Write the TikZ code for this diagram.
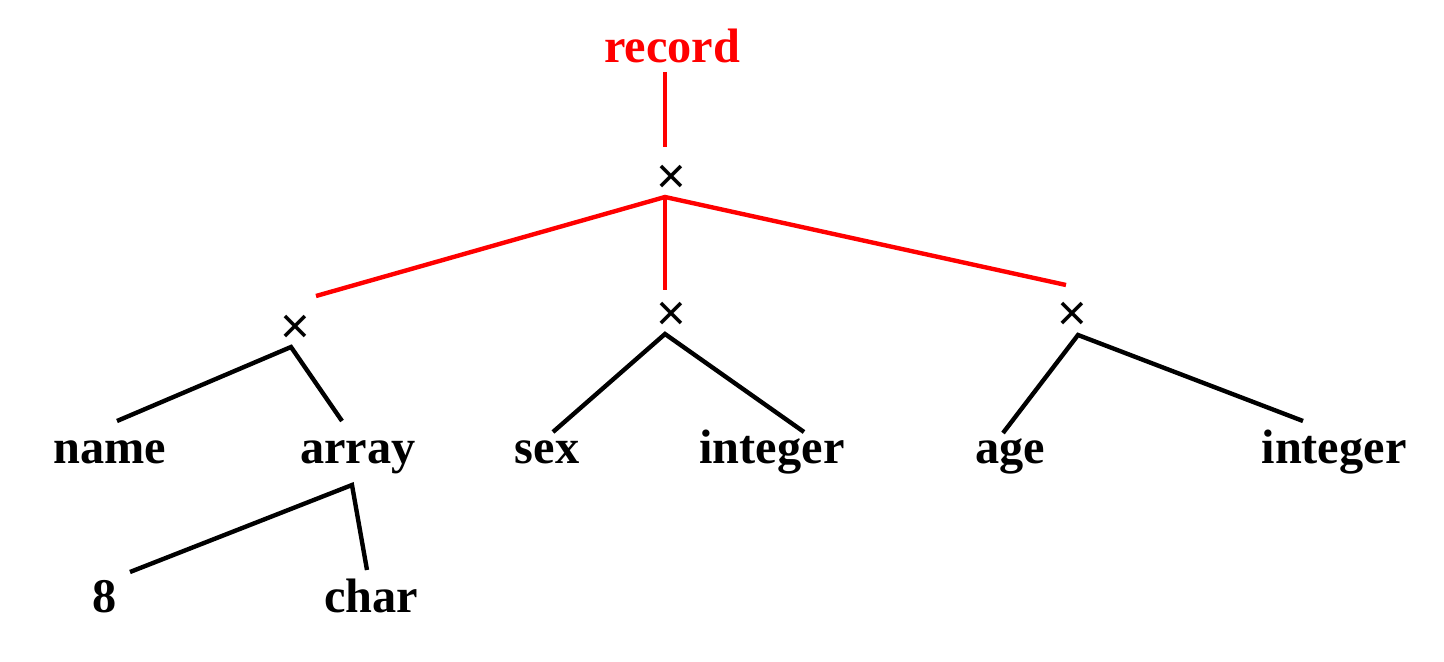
\documentclass[tikz,border=0pt]{standalone}
\usepackage{fontspec}
\setmainfont{Liberation Serif}
\newfontfamily\symfont{Liberation Sans}
\usepackage{tikz}
\definecolor{recRed}{HTML}{FF0000}
\begin{document}
\begin{tikzpicture}[x=0.02cm, y=-0.02cm,
  lbl/.style={font=\fontsize{27.5}{32}\selectfont\bfseries, inner sep=0pt, anchor=base},
  prod/.style={font=\symfont\fontsize{29}{29}\selectfont, inner sep=0pt},
  edge/.style={line width=2.5pt},
  redge/.style={edge, draw=recRed}]
  \useasboundingbox (0,0) rectangle (1444,662);
  % labels
  \node[lbl, text=recRed] (record) at (672,63) {record};
  \node[lbl] (name) at (110,463) {name};
  \node[lbl] (array) at (358,463) {array};
  \node[lbl] (sex) at (547,463) {sex};
  \node[lbl] (intA) at (772,463) {integer};
  \node[lbl] (age) at (1010,463) {age};
  \node[lbl] (intB) at (1334,463) {integer};
  \node[lbl] (eight) at (105,612) {8};
  \node[lbl] (char) at (371,612) {char};
  % product signs
  \node[prod] (rootX) at (671,179) {×};
  \node[prod] (leftX) at (295,329) {×};
  \node[prod] (midX) at (671,316) {×};
  \node[prod] (rightX) at (1072,316) {×};
  % line ends
  \coordinate (recEnd) at (665,72);
  \coordinate (rootTop) at (665,147);
  \coordinate (rootJ) at (665,197);
  \coordinate (leftTop) at (316,296);
  \coordinate (midTop) at (665,290);
  \coordinate (rightTop) at (1066,285);
  \coordinate (leftJ) at (291,347);
  \coordinate (nameTop) at (117,421);
  \coordinate (arrayTop) at (342,421);
  \coordinate (midJ) at (665,334);
  \coordinate (sexTop) at (553,432);
  \coordinate (intATop) at (804,432);
  \coordinate (rightJ) at (1078,335);
  \coordinate (ageTop) at (1003,433);
  \coordinate (intBTop) at (1303,421);
  \coordinate (arrayJ) at (352,485);
  \coordinate (eightTop) at (130,572);
  \coordinate (charTop) at (367,570);
  % red part
  \draw[redge] (recEnd) -- (rootTop);
  \draw[redge] (leftTop) -- (rootJ) -- (rightTop);
  \draw[redge] (rootJ) -- (midTop);
  % black part
  \draw[edge] (nameTop) -- (leftJ) -- (arrayTop);
  \draw[edge] (sexTop) -- (midJ) -- (intATop);
  \draw[edge] (ageTop) -- (rightJ) -- (intBTop);
  \draw[edge] (eightTop) -- (arrayJ) -- (charTop);
\end{tikzpicture}
\end{document}
